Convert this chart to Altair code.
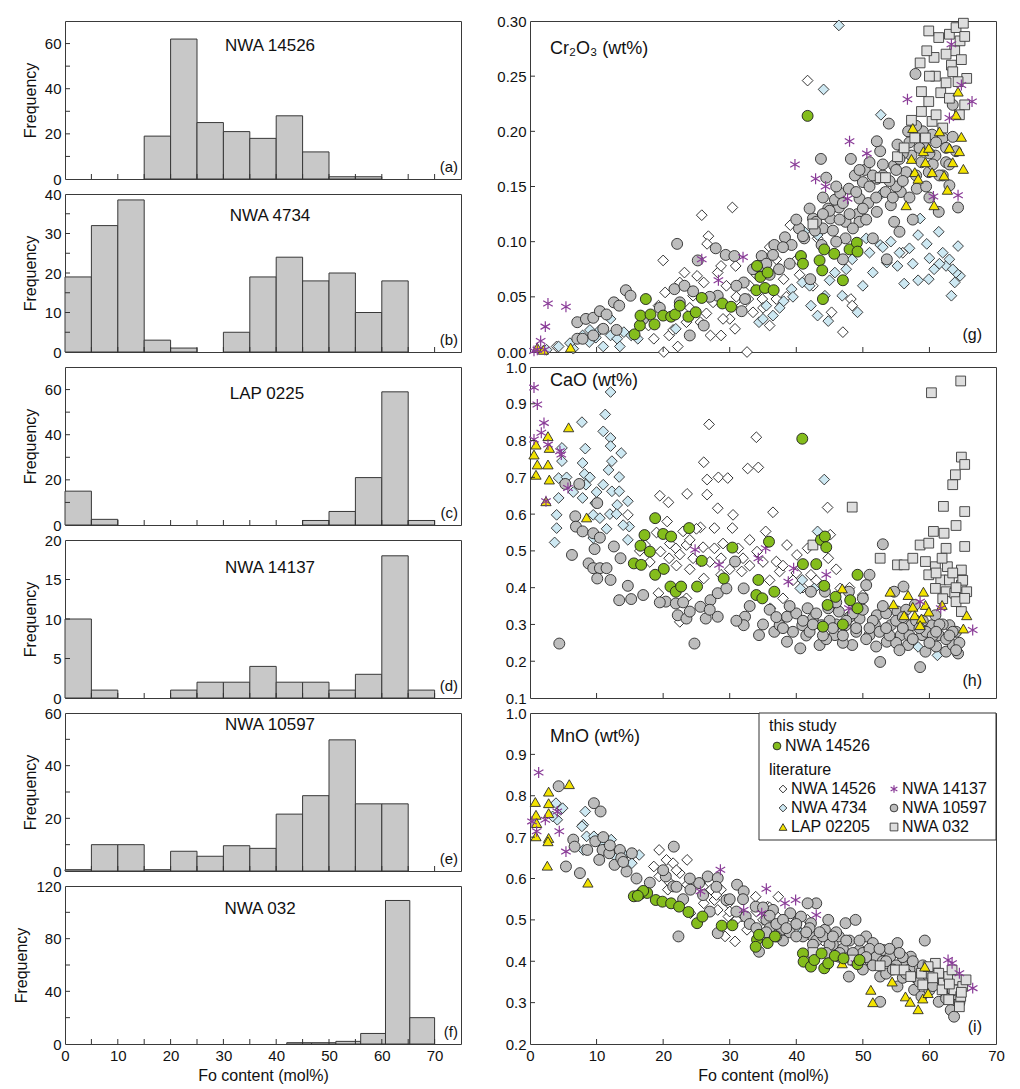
import altair as alt
import pandas as pd

FONT = "Liberation Sans"

# ---------------- Histogram data (Fo content bins, mol%) ----------------
BIN_LO = [0, 5, 10, 15, 20, 25, 30, 35, 40, 45, 50, 55, 60, 65]
BIN_HI = [5, 10, 15, 20, 25, 30, 35, 40, 45, 50, 55, 60, 65, 70]
HIST_A = [0, 0, 0, 19, 62, 25, 21, 18, 28, 12, 1, 1, 0, 0]
HIST_B = [19, 32, 38.5, 3, 1, 0, 5, 19, 24, 18, 20, 10, 18, 0]
HIST_C = [15, 2.5, 0, 0, 0, 0, 0, 0, 0, 2, 6, 21, 59, 2]
HIST_D = [10, 1, 0, 0, 1, 2, 2, 4, 2, 2, 1, 3, 18, 1]
HIST_E = [0.5, 10, 10, 0.5, 7.5, 5.6, 9.6, 8.6, 21.6, 28.6, 49.8, 25.5, 25.5, 0]
F_LO = [42, 46.7, 51.3, 56, 60.7, 65.3]
F_HI = [46.7, 51.3, 56, 60.7, 65.3, 70]
HIST_F = [1, 1, 2, 8, 109, 20]
HIST_TITLES = ["NWA 14526", "NWA 4734", "LAP 0225", "NWA 14137", "NWA 10597", "NWA 032"]
HIST_LETTERS = ["(a)", "(b)", "(c)", "(d)", "(e)", "(f)"]

# ---------------- Scatter data: (Fo mol%, oxide wt%) ----------------
CR_THIS = [(17.4,0.048),(15.7,0.016),(16.5,0.024),(16.6,0.033),(18.1,0.034),(18.7,0.025),(20.0,0.033),
           (21.2,0.032),(21.8,0.034),(22.5,0.042),(23.8,0.032),(24.9,0.036),(25.8,0.049),(28.9,0.044),
           (30.2,0.041),(34.1,0.078),(34.6,0.068),(35.7,0.072),(34.0,0.056),(35.3,0.058),(36.6,0.056),
           (40.7,0.087),(41.0,0.080),(41.7,0.214),(43.5,0.083),(44.2,0.093),(43.9,0.074),(44.0,0.048),
           (45.7,0.089),(47.0,0.065),(48.0,0.093),(49.1,0.099),(49.2,0.091)]
CR_LIT14526 = [(20.0,0.083),(20.1,0.0),(25.8,0.124),(30.4,0.131),(26.8,0.105),(26.6,0.098),(32.6,0.0),
               (23.2,0.072),(20.3,0.054),(19.3,0.042),(20.9,0.015),(22.2,0.005),(23.5,0.027),(28.2,0.072),
               (28.7,0.015),(30.8,0.021),(31.8,0.042),(32.8,0.048),(27.1,0.015),(30.0,0.030),(24.5,0.051),
               (22.5,0.063),(26.1,0.063),(28.7,0.078),(39.1,0.115),(38.1,0.066),(41.7,0.246),(37.0,0.084),
               (47.0,0.018),(48.2,0.048),(48.4,0.042),(40.1,0.084),(45.3,0.036),(18.6,0.012),(17.8,0.024),
               (25.6,0.027),(34.9,0.048),(36.0,0.024),(37.0,0.048),(43.2,0.103),(56.0,0.090),(4.0,0.005),
               (25.1,0.069),(30.9,0.078),(21.5,0.020),(33.5,0.036),(29.5,0.060),(24.0,0.040),(26.5,0.035),
               (27.5,0.045),(29.0,0.030),(31.0,0.050),(33.0,0.060),(35.0,0.040),(38.5,0.050),(40.5,0.070),
               (36.0,0.095),(34.0,0.070),(42.5,0.060)]
CR_4734 = [(46.4,0.296),(44.1,0.238),(52.7,0.215),(12.1,0.030),(7.9,0.015),(8.9,0.009),(9.9,0.013),
           (11.0,0.005),(12.1,0.015),(13.1,0.012),(14.1,0.018),(15.2,0.015),(16.2,0.012),(4.3,0.005),
           (21.9,0.021),(34.4,0.027),(35.5,0.042),(36.5,0.033),(38.1,0.046),(39.3,0.057),(40.9,0.063),
           (41.2,0.109),(43.2,0.106),(42.2,0.042),(43.2,0.033),(44.3,0.051),(44.8,0.028),(45.8,0.072),
           (46.9,0.051),(48.4,0.084),(49.2,0.036),(50.0,0.060),(50.5,0.103),(51.5,0.072),(52.6,0.097),
           (53.6,0.081),(54.2,0.100),(55.2,0.078),(56.2,0.062),(57.0,0.094),(58.3,0.065),(58.6,0.121),
           (59.6,0.098),(59.9,0.066),(60.7,0.075),(61.4,0.109),(62.0,0.090),(62.5,0.078),(63.0,0.084),
           (63.3,0.051),(63.8,0.063),(64.3,0.096),(64.6,0.069),(64.0,0.072),(52.9,0.144),(58.3,0.106),
           (10.5,0.020),(6.5,0.003),(2.5,0.002),(35.0,0.030),(37.5,0.040),(39.5,0.050),(42.0,0.060),
           (45.0,0.065),(47.5,0.075),(51.0,0.090),(53.0,0.095),(55.5,0.090),(57.5,0.080),(60.0,0.085),
           (61.5,0.080),(63.5,0.075),(6.0,0.008),(9.0,0.020),(13.5,0.005)]
CR_10597 = [(7.1,0.027),(7.1,0.012),(8.4,0.030),(9.5,0.031),(10.5,0.037),(11.5,0.034),(12.6,0.045),
            (13.4,0.042),(14.4,0.056),(15.1,0.051),(9.5,0.015),(7.9,0.012),(11.0,0.021),(22.1,0.098),
            (21.7,0.057),(23.2,0.060),(24.0,0.015),(26.1,0.024),(25.2,0.083),(27.9,0.094),(29.4,0.088),
            (30.7,0.087),(28.2,0.051),(31.8,0.037),(32.1,0.063),(32.3,0.048),(34.8,0.087),(34.7,0.078),
            (36.7,0.097),(38.3,0.104),(39.3,0.097),(40.4,0.112),(42.5,0.121),(44.0,0.112),(45.1,0.121),
            (46.4,0.131),(45.8,0.138),(46.6,0.144),(47.9,0.148),(48.2,0.175),(49.2,0.125),(49.5,0.139),
            (50.0,0.154),(50.3,0.165),(51.0,0.172),(52.1,0.157),(52.6,0.182),(53.4,0.145),(53.9,0.207),
            (54.2,0.133),(54.7,0.169),(55.2,0.188),(55.7,0.145),(55.5,0.109),(56.5,0.163),(56.8,0.200),
            (57.3,0.178),(57.9,0.252),(58.1,0.148),(58.8,0.172),(59.4,0.185),(59.9,0.163),(60.4,0.197),
            (60.9,0.178),(61.4,0.127),(62.0,0.194),(62.5,0.172),(63.0,0.151),(63.5,0.224),(64.0,0.182),
            (64.3,0.131),(43.7,0.175),(44.5,0.158),(37.4,0.075),(42.1,0.066),(41.2,0.103),(47.4,0.118),
            (52.1,0.127),(51.5,0.103),(53.6,0.084),(54.7,0.118),(47.4,0.103),(49.5,0.118),(47.0,0.084),
            (43.8,0.097),(52.1,0.191),(50.8,0.135),(53.0,0.160),(55.0,0.150),(57.0,0.140),(48.8,0.160),
            (46.0,0.100),(44.8,0.130),(42.8,0.110),(39.0,0.080),(36.0,0.070),(40.0,0.120),(41.0,0.105),
            (42.0,0.130),(43.0,0.118),(44.0,0.140),(45.0,0.128),(46.0,0.150),(47.0,0.135),(48.0,0.125),
            (49.0,0.145),(50.0,0.130),(51.0,0.150),(52.0,0.140),(53.0,0.170),(54.0,0.155),(55.0,0.165),
            (56.0,0.180),(57.0,0.190),(58.0,0.160),(59.0,0.200),(60.0,0.180),(61.0,0.190),(62.0,0.160),
            (63.0,0.170),(38.0,0.095),(36.5,0.088),(35.5,0.080),(33.5,0.075),(31.0,0.060),(27.0,0.050),
            (24.5,0.055),(22.5,0.045),(19.5,0.040),(17.0,0.030),(13.0,0.020),(45.5,0.110),(50.5,0.120),
            (48.5,0.112),(55.5,0.175),(56.0,0.155),(58.5,0.185),(59.5,0.150),(60.5,0.170),(61.5,0.160),
            (62.5,0.185),(63.5,0.195),(58.0,0.205),(60.0,0.140),(57.5,0.120),(54.5,0.140),(51.5,0.160),
            (49.5,0.165),(46.5,0.120),(44.0,0.125)]
CR_032 = [(42.5,0.116),(52.6,0.158),(53.4,0.158),(55.2,0.177),(56.2,0.185),(57.3,0.210),(58.6,0.262),
          (58.8,0.218),(59.4,0.194),(59.9,0.227),(60.4,0.209),(60.7,0.267),(60.9,0.250),(61.4,0.285),
          (61.7,0.235),(62.0,0.203),(62.5,0.244),(63.0,0.288),(63.3,0.260),(63.5,0.254),(63.8,0.273),
          (64.0,0.294),(64.6,0.282),(64.8,0.265),(65.1,0.298),(65.3,0.286),(65.6,0.248),(65.3,0.224),
          (59.9,0.291),(58.8,0.236),(59.6,0.273),(62.5,0.270),(64.3,0.245),(57.8,0.194),(61.0,0.215),
          (63.0,0.230),(64.5,0.215),(60.0,0.250)]
CR_LAP = [(57.5,0.203),(57.3,0.175),(57.8,0.163),(59.1,0.182),(59.4,0.172),(59.9,0.185),(60.4,0.163),
          (60.7,0.133),(62.7,0.147),(63.0,0.185),(63.5,0.172),(64.0,0.215),(64.3,0.236),(64.8,0.195),
          (65.1,0.166),(64.5,0.182),(58.3,0.157),(56.5,0.133),(61.5,0.200),(62.2,0.160),(1.1,0.004),
          (6.1,0.004),(2.0,0.002)]
CR_14137 = [(2.7,0.044),(5.4,0.041),(2.3,0.023),(1.6,0.010),(0.6,0.001),(1.1,0.002),(2.2,0.002),
            (32.0,0.086),(28.3,0.065),(39.8,0.170),(42.9,0.157),(44.4,0.150),(48.0,0.191),(50.6,0.180),
            (56.7,0.229),(60.6,0.141),(64.3,0.142),(66.4,0.227),(64.8,0.242),(63.0,0.212),(63.3,0.279),
            (47.7,0.139),(25.8,0.084)]

CA_THIS = [(40.9,0.805),(18.8,0.589),(23.9,0.562),(20.0,0.546),(21.2,0.539),(17.2,0.543),(16.6,0.514),
           (18.0,0.498),(15.6,0.466),(16.7,0.462),(18.8,0.435),(20.1,0.451),(21.1,0.403),(21.9,0.389),
           (22.7,0.403),(25.1,0.403),(25.8,0.473),(29.1,0.425),(30.4,0.509),(34.3,0.421),(34.0,0.380),
           (34.9,0.371),(35.9,0.525),(36.7,0.389),(41.0,0.464),(43.0,0.464),(43.7,0.530),(44.3,0.539),
           (44.5,0.510),(44.2,0.405),(44.7,0.353),(45.9,0.375),(48.1,0.366),(49.2,0.435),(49.2,0.344),
           (44.0,0.294),(47.0,0.300)]
CA_LIT14526 = [(26.9,0.844),(34.0,0.809),(34.3,0.727),(32.7,0.724),(26.1,0.741),(28.3,0.700),(29.7,0.698),
               (26.6,0.694),(23.6,0.655),(26.6,0.653),(28.2,0.616),(19.5,0.650),(20.8,0.632),(36.5,0.605),
               (30.5,0.598),(25.6,0.564),(27.7,0.562),(44.7,0.618),(30.4,0.562),(20.6,0.580),(23.0,0.553),
               (23.5,0.516),(21.9,0.507),(19.6,0.498),(20.9,0.480),(24.5,0.480),(27.7,0.507),(28.7,0.480),
               (31.3,0.507),(31.8,0.444),(28.7,0.435),(26.1,0.425),(19.3,0.385),(22.5,0.307),(35.4,0.553),
               (38.6,0.516),(37.0,0.471),(40.1,0.489),(41.7,0.507),(45.1,0.544),(44.8,0.480),(37.5,0.444),
               (42.2,0.435),(46.6,0.398),(14.7,0.598),(17.3,0.516),(23.5,0.371),(34.1,0.498),(38.0,0.371),
               (22.0,0.460),(24.0,0.530),(33.0,0.460),(39.5,0.420),(16.5,0.500),(18.0,0.470),(19.0,0.550),
               (21.0,0.520),(22.5,0.490),(24.0,0.450),(25.0,0.560),(26.0,0.510),(27.0,0.470),(29.0,0.520),
               (30.0,0.450),(32.0,0.480),(33.0,0.530),(35.0,0.470),(36.0,0.420),(38.0,0.460),(40.0,0.440),
               (41.0,0.400),(43.0,0.420),(46.0,0.450),(48.0,0.400),(50.0,0.380)]
CA_4734 = [(12.1,0.932),(11.3,0.871),(11.0,0.825),(12.1,0.807),(7.8,0.850),(8.3,0.778),(12.1,0.785),
           (13.7,0.766),(12.3,0.744),(7.9,0.739),(8.2,0.709),(8.4,0.680),(13.4,0.701),(11.0,0.680),
           (12.3,0.662),(13.4,0.662),(14.7,0.635),(13.1,0.625),(7.9,0.644),(9.5,0.598),(10.5,0.589),
           (9.5,0.535),(4.8,0.744),(4.3,0.698),(4.3,0.644),(4.0,0.598),(4.0,0.562),(3.7,0.523),
           (4.8,0.780),(14.7,0.530),(14.9,0.566),(44.2,0.694),(40.9,0.421),(40.6,0.398),(36.1,0.344),
           (61.2,0.216),(58.3,0.239),(43.2,0.553),(42.7,0.398),(12.0,0.600),(11.5,0.560),(5.5,0.700),
           (6.5,0.660),(9.0,0.700),(10.0,0.660),(11.8,0.720),(13.0,0.600),(14.0,0.570),(9.8,0.630)]
CA_10597 = [(4.4,0.248),(24.7,0.248),(5.3,0.682),(7.4,0.682),(10.1,0.630),(6.8,0.594),(6.9,0.566),
            (7.9,0.553),(9.5,0.548),(10.5,0.536),(9.7,0.505),(6.3,0.489),(8.8,0.466),(9.5,0.453),
            (10.5,0.453),(11.5,0.453),(10.1,0.425),(12.1,0.421),(13.6,0.480),(14.7,0.405),(13.4,0.366),
            (15.2,0.369),(12.6,0.512),(20.4,0.362),(21.9,0.357),(22.2,0.325),(23.5,0.316),(24.0,0.335),
            (25.6,0.348),(26.4,0.316),(27.1,0.366),(28.2,0.385),(28.2,0.321),(29.5,0.398),(30.8,0.471),
            (32.1,0.398),(32.3,0.321),(32.1,0.298),(34.4,0.271),(36.7,0.280),(38.6,0.321),(38.6,0.253),
            (40.6,0.235),(40.9,0.298),(41.7,0.344),(42.5,0.316),(43.5,0.244),(43.8,0.298),(44.8,0.344),
            (45.8,0.271),(47.4,0.298),(48.4,0.244),(49.5,0.316),(50.0,0.371),(51.0,0.271),(51.0,0.435),
            (52.1,0.325),(52.6,0.198),(53.0,0.518),(53.6,0.253),(54.2,0.298),(55.2,0.335),(55.7,0.271),
            (56.1,0.403),(56.8,0.244),(57.3,0.298),(57.8,0.353),(58.6,0.184),(58.9,0.271),(59.4,0.226),
            (60.4,0.298),(60.9,0.325),(61.4,0.271),(62.5,0.226),(63.0,0.298),(63.5,0.244),(64.3,0.221),
            (64.0,0.280),(44.3,0.389),(46.4,0.335),(50.5,0.407),(42.2,0.389),(37.5,0.298),(47.9,0.389),
            (54.7,0.389),(46.0,0.300),(49.0,0.280),(51.8,0.300),(53.5,0.330),(55.0,0.250),(57.0,0.270),
            (59.0,0.310),(61.0,0.240),(62.0,0.300),(39.5,0.280),(41.5,0.270),(44.5,0.260),(47.0,0.250),
            (40.0,0.330),(41.0,0.310),(42.0,0.280),(43.0,0.330),(44.0,0.270),(45.0,0.310),(46.0,0.360),
            (47.0,0.270),(48.0,0.320),(49.0,0.290),(50.0,0.340),(50.5,0.260),(51.5,0.310),(52.5,0.280),
            (53.0,0.350),(54.0,0.270),(55.0,0.310),(56.0,0.290),(56.5,0.340),(57.5,0.260),(58.0,0.310),
            (59.5,0.280),(60.5,0.270),(61.5,0.300),(62.5,0.260),(63.5,0.280),(64.5,0.250),(35.0,0.300),
            (36.0,0.340),(37.0,0.320),(38.0,0.290),(39.0,0.350),(33.0,0.350),(31.0,0.310),(27.0,0.340),
            (23.0,0.360),(19.5,0.360),(17.0,0.380),(42.5,0.300),(45.5,0.290),(48.5,0.330),(51.0,0.290),
            (53.5,0.290),(56.0,0.320),(58.5,0.290),(60.0,0.250),(61.0,0.280),(63.0,0.270),(64.0,0.230),
            (52.0,0.240),(55.5,0.230),(47.5,0.310)]
CA_032 = [(64.7,0.962),(60.3,0.930),(64.8,0.755),(65.3,0.735),(63.9,0.707),(63.5,0.680),(62.1,0.621),
          (65.3,0.607),(64.0,0.569),(48.4,0.619),(60.6,0.553),(62.2,0.548),(65.3,0.512),(58.6,0.516),
          (59.9,0.521),(62.5,0.507),(52.6,0.480),(55.2,0.462),(56.2,0.462),(57.5,0.480),(59.4,0.471),
          (60.9,0.457),(62.7,0.457),(64.8,0.448),(59.9,0.435),(61.7,0.421),(63.0,0.421),(64.8,0.407),
          (60.9,0.398),(62.5,0.389),(63.8,0.385),(65.6,0.389),(64.0,0.362),(65.3,0.371),(42.5,0.516),
          (64.8,0.335),(61.9,0.480),(61.0,0.440),(63.5,0.440),(65.0,0.420),(62.0,0.370),(64.0,0.400)]
CA_LAP = [(0.9,0.789),(0.6,0.762),(1.1,0.735),(0.9,0.707),(2.7,0.812),(2.9,0.780),(2.7,0.735),
          (2.9,0.694),(2.4,0.635),(5.8,0.836),(8.5,0.591),(46.9,0.398),(54.1,0.389),(54.6,0.355),
          (56.8,0.380),(57.5,0.348),(57.8,0.325),(59.1,0.389),(59.4,0.353),(58.8,0.316),(59.9,0.335),
          (58.6,0.298),(56.2,0.325),(65.6,0.325),(65.1,0.289),(61.9,0.353)]
CA_14137 = [(0.6,0.944),(1.1,0.898),(2.1,0.848),(1.7,0.821),(0.6,0.803),(2.7,0.789),(4.5,0.771),
            (4.7,0.762),(2.4,0.635),(24.8,0.503),(25.6,0.471),(28.4,0.462),(34.3,0.480),(35.4,0.507),
            (38.8,0.416),(39.6,0.453),(44.5,0.435),(58.6,0.362),(61.7,0.344),(66.5,0.285),(47.9,0.344),
            (5.7,0.671)]

MN_THIS = [(15.6,0.557),(16.6,0.563),(17.6,0.565),(18.9,0.548),(19.9,0.544),(21.2,0.540),(22.4,0.532),
           (23.8,0.519),(25.1,0.492),(25.9,0.508),(28.8,0.486),(30.4,0.487),(34.1,0.452),(34.4,0.464),
           (35.7,0.444),(36.8,0.460),(33.9,0.435),(41.0,0.419),(41.1,0.399),(42.2,0.387),(42.7,0.403),
           (43.8,0.419),(44.2,0.383),(44.8,0.395),(45.8,0.413),(47.1,0.407),(49.2,0.393),(49.5,0.403),
           (17.0,0.570),(16.2,0.558)]
MN_LIT14526 = [(19.4,0.669),(18.6,0.629),(20.5,0.645),(21.5,0.637),(23.6,0.645),(22.5,0.613),(19.4,0.605),
               (20.7,0.573),(23.6,0.585),(25.6,0.589),(27.2,0.573),(28.7,0.573),(29.8,0.540),(28.2,0.524),
               (26.1,0.540),(24.1,0.516),(29.3,0.460),(30.8,0.448),(31.8,0.508),(33.9,0.556),(35.7,0.532),
               (37.3,0.556),(32.6,0.476),(29.8,0.508),(39.1,0.508),(36.5,0.500),(41.7,0.500),(27.7,0.548),
               (21.0,0.590),(22.0,0.620),(24.0,0.600),(26.0,0.580),(28.0,0.560),(30.0,0.520),(31.0,0.500),
               (34.0,0.520),(35.0,0.500),(36.0,0.530),(37.0,0.510),(38.0,0.490),(40.0,0.480),(42.0,0.470),
               (44.0,0.450)]
MN_4734 = [(4.6,0.766),(4.9,0.770),(4.1,0.742),(3.9,0.782),(3.4,0.750),(8.3,0.762),(8.0,0.730),
           (7.8,0.726),(8.5,0.702),(9.6,0.702),(8.0,0.669),(10.6,0.685),(12.2,0.694),(14.2,0.657),
           (15.3,0.637),(16.4,0.657),(40.7,0.468),(40.9,0.460),(11.0,0.670),(13.0,0.650)]
MN_10597 = [(4.3,0.823),(9.6,0.782),(10.6,0.762),(5.4,0.629),(7.5,0.613),(6.5,0.694),(6.7,0.677),
            (8.6,0.669),(9.8,0.690),(10.9,0.669),(10.4,0.645),(11.9,0.661),(12.7,0.633),(13.5,0.669),
            (13.7,0.649),(14.5,0.617),(15.3,0.661),(21.6,0.677),(20.4,0.605),(21.5,0.581),(22.3,0.460),
            (24.1,0.573),(25.4,0.589),(26.7,0.605),(28.2,0.601),(28.2,0.468),(29.5,0.548),(31.1,0.585),
            (32.1,0.569),(32.4,0.508),(33.9,0.532),(34.4,0.423),(35.5,0.500),(36.5,0.524),(37.8,0.476),
            (39.1,0.516),(40.7,0.508),(42.2,0.492),(43.0,0.540),(44.3,0.476),(44.8,0.500),(46.4,0.460),
            (47.4,0.492),(48.9,0.500),(47.9,0.363),(49.5,0.427),(50.5,0.460),(51.0,0.403),(51.5,0.444),
            (52.6,0.363),(53.1,0.427),(54.1,0.411),(52.6,0.302),(55.2,0.444),(55.2,0.339),(56.2,0.387),
            (57.2,0.411),(57.7,0.331),(58.8,0.315),(59.3,0.450),(59.8,0.355),(60.6,0.379),(61.4,0.302),
            (62.4,0.339),(63.2,0.282),(63.7,0.266),(64.0,0.315),(46.4,0.411),(48.4,0.403),(41.7,0.540),
            (38.0,0.450),(45.5,0.440),(50.0,0.380),(53.5,0.370),(56.0,0.360),(58.0,0.380),(60.0,0.330),
            (62.0,0.360),(64.5,0.300),(42.5,0.460),(36.0,0.480),(16.0,0.600),(18.0,0.590),(20.0,0.620),
            (22.0,0.580),(23.0,0.550),(26.0,0.560),(27.0,0.520),(30.0,0.550),(31.0,0.520),(33.0,0.490),
            (34.0,0.480),(35.0,0.460),(36.0,0.510),(37.0,0.490),(38.0,0.500),(39.0,0.470),(40.0,0.490),
            (41.0,0.460),(42.0,0.480),(43.0,0.450),(44.0,0.460),(45.0,0.440),(46.0,0.470),(47.0,0.430),
            (48.0,0.450),(49.0,0.410),(50.0,0.420),(51.0,0.430),(52.0,0.410),(53.0,0.400),(54.0,0.430),
            (55.0,0.390),(56.0,0.410),(57.0,0.380),(58.0,0.360),(59.0,0.390),(60.0,0.370),(61.0,0.350),
            (62.0,0.330),(63.0,0.350),(64.0,0.320),(12.0,0.680),(14.0,0.640),(11.0,0.700),(35.5,0.470),
            (37.0,0.460),(38.5,0.480),(40.0,0.460),(41.5,0.470),(42.5,0.440),(43.5,0.470),(44.5,0.420),
            (45.5,0.460),(46.5,0.420),(47.5,0.450),(48.5,0.420),(49.5,0.450),(50.5,0.410),(51.5,0.390),
            (52.5,0.430),(53.5,0.400),(54.5,0.380),(55.5,0.420),(56.5,0.370),(57.5,0.400),(58.5,0.350),
            (60.5,0.340),(61.5,0.360),(62.5,0.310),(63.5,0.330),(24.0,0.600),(28.0,0.580),(32.0,0.550),
            (35.0,0.530)]
MN_032 = [(42.5,0.421),(48.5,0.403),(52.6,0.389),(54.9,0.379),(56.2,0.379),(57.2,0.363),(58.8,0.371),
          (59.0,0.343),(60.9,0.395),(61.4,0.371),(62.1,0.347),(62.9,0.363),(63.4,0.379),(63.7,0.331),
          (64.2,0.355),(64.7,0.315),(65.0,0.339),(64.5,0.290),(61.9,0.331),(59.8,0.387),(65.5,0.355),
          (62.9,0.307),(60.5,0.360),(63.0,0.345),(64.8,0.325)]
MN_LAP = [(5.9,0.828),(0.8,0.785),(0.9,0.754),(1.0,0.734),(0.9,0.702),(2.8,0.810),(2.8,0.782),
          (2.8,0.758),(2.8,0.698),(2.7,0.690),(2.6,0.631),(8.7,0.590),(51.2,0.331),(51.5,0.301),
          (56.4,0.315),(57.1,0.302),(58.3,0.284),(59.0,0.310),(59.8,0.323),(54.4,0.351),(46.9,0.395),
          (59.3,0.387)]
MN_14137 = [(1.3,0.856),(0.3,0.738),(1.0,0.714),(4.4,0.714),(5.4,0.665),(4.1,0.762),(2.3,0.742),
            (25.6,0.569),(28.6,0.621),(35.5,0.575),(38.3,0.540),(39.9,0.548),(32.1,0.524),(43.0,0.512),
            (62.8,0.403),(63.4,0.395),(66.5,0.335),(64.5,0.371),(48.9,0.395),(34.8,0.516)]

# ---------------- styles ----------------
ASTERISK = "M0,-1L0,1M-0.87,-0.5L0.87,0.5M-0.87,0.5L0.87,-0.5"
STYLE = {
    "lit14526": dict(shape="diamond", fill="#ffffff", stroke="#1e1e1e", size=115),
    "4734": dict(shape="diamond", fill="#cde8f2", stroke="#2a2a2a", size=115),
    "10597": dict(shape="circle", fill="#bdbdbd", stroke="#2a2a2a", size=120),
    "032": dict(shape="square", fill="#dedede", stroke="#3a3a3a", size=95),
    "lap": dict(shape="triangle-up", fill="#f3e300", stroke="#2a2a2a", size=105),
    "14137": dict(shape=ASTERISK, fill=None, stroke="#8a3c98", size=120),
    "this": dict(shape="circle", fill="#84bd1c", stroke="#1e1e1e", size=120),
}
ORDER = ["lit14526", "4734", "10597", "032", "lap", "14137", "this"]

HW, HH = 396, 158
SW, SH = 466, 331


def point_mark(key, size=None):
    s = STYLE[key]
    sz = size if size is not None else s["size"]
    if s["fill"] is None:
        return dict(shape=s["shape"], filled=False, stroke=s["stroke"], strokeWidth=1.2, size=sz, opacity=1)
    return dict(shape=s["shape"], filled=True, fill=s["fill"], stroke=s["stroke"], strokeWidth=0.9,
                size=sz, opacity=1, fillOpacity=1)


def text_at(txt, x, y, size, align="left"):
    return alt.Chart(pd.DataFrame({"t": [txt]})).mark_text(
        align=align, baseline="middle", font=FONT, fontSize=size, color="#111111"
    ).encode(x=alt.value(x), y=alt.value(y), text="t:N")


def xaxis_full():
    return alt.Axis(values=list(range(0, 80, 10)), title="Fo content (mol%)", ticks=False, domain=False,
                    grid=False, labelFlush=False, labelPadding=4, titlePadding=4)


def hist_panel(lo, hi, counts, ymax, ylabels, yticks, title, tx, ty, letter, last):
    df = pd.DataFrame({"lo": lo, "hi": hi, "n": counts})
    df = df[df["n"] > 0].copy()
    df["z"] = 0
    xs = alt.Scale(domain=[0, 75], nice=False, zero=False)
    ys = alt.Scale(domain=[0, ymax], nice=False)
    xa = xaxis_full() if last else None
    ya = alt.Axis(values=ylabels, title="Frequency", ticks=False, domain=False, grid=False,
                  labelPadding=4, titlePadding=6)
    bars = alt.Chart(df).mark_rect(fill="#c8c8c8", stroke="#383838", strokeWidth=1).encode(
        x=alt.X("lo:Q", scale=xs, axis=xa), x2="hi:Q",
        y=alt.Y("n:Q", scale=ys, axis=ya), y2="z:Q")
    xt = alt.Chart(pd.DataFrame({"lo": list(range(5, 75, 5))})).mark_rule(color="#333333").encode(
        x=alt.X("lo:Q", scale=xs, axis=xa), y=alt.value(HH), y2=alt.value(HH - 5))
    yt = alt.Chart(pd.DataFrame({"n": yticks})).mark_rule(color="#333333").encode(
        y=alt.Y("n:Q", scale=ys, axis=ya), x=alt.value(0), x2=alt.value(5))
    t1 = text_at(title, tx, ty, 17, align="center")
    t2 = text_at(letter, HW - 3, HH - 12, 15, align="right")
    return alt.layer(bars, xt, yt, t1, t2).properties(width=HW, height=HH)


def scatter_panel(series, ydom, ylabels, yticks, fmt, label, ly, letter, last, legend=False):
    xs = alt.Scale(domain=[0, 70], nice=False, zero=False)
    ys = alt.Scale(domain=ydom, nice=False, zero=False)
    xa = xaxis_full() if last else None
    ya = alt.Axis(values=ylabels, format=fmt, title=None, ticks=False, domain=False, grid=False,
                  labelPadding=4)
    layers = []
    for key in ORDER:
        df = pd.DataFrame(series[key], columns=["fo", "v"])
        layers.append(alt.Chart(df).mark_point(**point_mark(key)).encode(
            x=alt.X("fo:Q", scale=xs, axis=xa), y=alt.Y("v:Q", scale=ys, axis=ya)))
    layers.append(alt.Chart(pd.DataFrame({"fo": list(range(10, 70, 10))})).mark_rule(color="#333333").encode(
        x=alt.X("fo:Q", scale=xs, axis=xa), y=alt.value(SH), y2=alt.value(SH - 5)))
    layers.append(alt.Chart(pd.DataFrame({"v": yticks})).mark_rule(color="#333333").encode(
        y=alt.Y("v:Q", scale=ys, axis=ya), x=alt.value(0), x2=alt.value(5)))
    layers.append(text_at(label, 20, ly, 18))
    layers.append(text_at(letter, 452, 314, 16, align="right"))
    if legend:
        one = pd.DataFrame({"a": [0]})
        layers.append(alt.Chart(one).mark_rect(fill="white", stroke="#333333", strokeWidth=1).encode(
            x=alt.value(229), x2=alt.value(SW), y=alt.value(0), y2=alt.value(127)))
        layers.append(text_at("this study", 239, 13, 16))
        layers.append(text_at("literature", 239, 57, 16))
        items = [("this", "NWA 14526", 247, 33), ("lit14526", "NWA 14526", 253, 76),
                 ("4734", "NWA 4734", 253, 95), ("lap", "LAP 02205", 253, 114),
                 ("14137", "NWA 14137", 364, 76), ("10597", "NWA 10597", 364, 95),
                 ("032", "NWA 032", 364, 114)]
        for key, name, px, py in items:
            layers.append(alt.Chart(one).mark_point(**point_mark(key, size=60)).encode(
                x=alt.value(px), y=alt.value(py)))
            layers.append(text_at(name, px + 8, py, 16))
    return alt.layer(*layers).properties(width=SW, height=SH)


hists = [
    hist_panel(BIN_LO, BIN_HI, HIST_A, 70, [0, 20, 40, 60], [10, 20, 30, 40, 50, 60], HIST_TITLES[0], 205, 25, HIST_LETTERS[0], False),
    hist_panel(BIN_LO, BIN_HI, HIST_B, 40, [0, 10, 20, 30, 40], [5, 10, 15, 20, 25, 30, 35], HIST_TITLES[1], 205, 22, HIST_LETTERS[1], False),
    hist_panel(BIN_LO, BIN_HI, HIST_C, 70, [0, 20, 40, 60], [10, 20, 30, 40, 50, 60], HIST_TITLES[2], 202, 27, HIST_LETTERS[2], False),
    hist_panel(BIN_LO, BIN_HI, HIST_D, 20, [0, 5, 10, 15, 20], [5, 10, 15], HIST_TITLES[3], 205, 28, HIST_LETTERS[3], False),
    hist_panel(BIN_LO, BIN_HI, HIST_E, 60, [0, 20, 40, 60], [10, 20, 30, 40, 50], HIST_TITLES[4], 205, 12, HIST_LETTERS[4], False),
    hist_panel(F_LO, F_HI, HIST_F, 120, [0, 40, 80, 120], [20, 40, 60, 80, 100], HIST_TITLES[5], 195, 23, HIST_LETTERS[5], True),
]

g = scatter_panel(
    {"this": CR_THIS, "lit14526": CR_LIT14526, "4734": CR_4734, "10597": CR_10597, "032": CR_032,
     "lap": CR_LAP, "14137": CR_14137},
    [0, 0.30], [0, 0.05, 0.10, 0.15, 0.20, 0.25, 0.30], [0.05, 0.10, 0.15, 0.20, 0.25], ".2f",
    "Cr\u2082O\u2083 (wt%)", 28, "(g)", False)
h = scatter_panel(
    {"this": CA_THIS, "lit14526": CA_LIT14526, "4734": CA_4734, "10597": CA_10597, "032": CA_032,
     "lap": CA_LAP, "14137": CA_14137},
    [0.1, 1.0], [0.1, 0.2, 0.3, 0.4, 0.5, 0.6, 0.7, 0.8, 0.9, 1.0], [0.2, 0.3, 0.4, 0.5, 0.6, 0.7, 0.8, 0.9], ".1f",
    "CaO (wt%)", 14, "(h)", False)
i = scatter_panel(
    {"this": MN_THIS, "lit14526": MN_LIT14526, "4734": MN_4734, "10597": MN_10597, "032": MN_032,
     "lap": MN_LAP, "14137": MN_14137},
    [0.2, 1.0], [0.2, 0.3, 0.4, 0.5, 0.6, 0.7, 0.8, 0.9, 1.0], [0.3, 0.4, 0.5, 0.6, 0.7, 0.8, 0.9], ".1f",
    "MnO (wt%)", 24, "(i)", True, legend=True)

chart = alt.hconcat(
    alt.vconcat(*hists, spacing=15, bounds="flush"),
    alt.vconcat(g, h, i, spacing=15, bounds="flush"),
    spacing=34,
).properties(background="white").configure_view(stroke="#3a3a3a", strokeWidth=1).configure_axis(
    labelFont=FONT, titleFont=FONT, labelFontSize=15, titleFontSize=16, labelColor="#111111",
    titleColor="#111111", titleFontWeight="normal"
)

chart.save("out.html", embed_options={"renderer": "svg", "actions": False})
